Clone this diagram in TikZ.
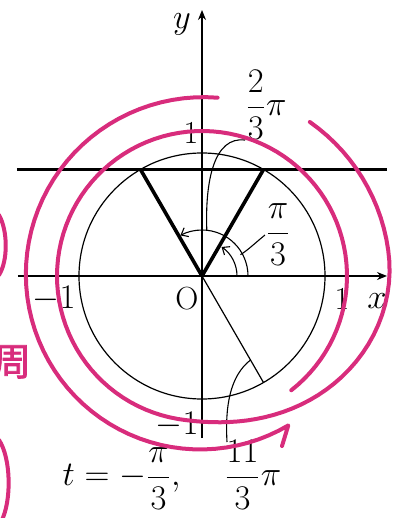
\documentclass[tikz,border=0pt]{standalone}
\usepackage{amsmath}
\usepackage{fontspec}
\newfontfamily\cjk[FakeBold=2]{Noto Sans CJK JP}
\usepackage{xcolor}
\usepackage{tikz}
\usetikzlibrary{arrows.meta}
\definecolor{pinkpen}{RGB}{216,44,124}

\begin{document}
\begin{tikzpicture}[x=0.5pt,y=0.5pt,
  axis/.style={line width=0.7pt,-{Stealth[length=5pt,width=4pt]}},
  rim/.style={line width=0.6pt},
  heavy/.style={line width=1.8pt},
  leader/.style={line width=0.55pt},
  turn/.style={line width=0.55pt,-{Straight Barb[length=3pt,width=5pt]}},
  pen/.style={pinkpen,line width=2pt,line cap=round,line join=round},
  lbl/.style={font=\fontsize{16}{18}\selectfont,inner sep=0pt},
  frc/.style={font=\fontsize{19}{22}\selectfont,inner sep=0pt},
  declare function={ramp(\t)=max(0,min(1,(\t-262)/105));
    grow(\t)=ramp(\t)*ramp(\t)*(3-2*ramp(\t));}]

\useasboundingbox (-202,-242) rectangle (191,276);
\clip (-202,-242) rectangle (191,276);

\coordinate (O) at (0,0);
\coordinate (xl) at (-184,0);
\coordinate (xr) at (185,0);
\coordinate (yb) at (0,-162);
\coordinate (yt) at (0,266);

\draw[axis] (xl) -- (xr);
\draw[axis] (yb) -- (yt);
\draw[rim] (O) circle[radius=123];

\coordinate (hl) at (-185,106.5);
\coordinate (hr) at (185,106.5);
\coordinate (P) at (60:123);
\coordinate (Q) at (120:123);
\coordinate (R) at (-60:123);
\draw[heavy] (hl) -- (hr);
\draw[heavy] (O) -- (P);
\draw[heavy] (O) -- (Q);
\draw[rim] (O) -- (R);

\draw[turn] (46,0) arc[start angle=0,end angle=118,radius=46];
\draw[turn] (35,0) arc[start angle=0,end angle=56,radius=35];

\node[lbl] (ly) at (-20,252) {$y$};
\node[lbl] (lx) at (175,-25) {$x$};
\node[lbl] (lO) at (-15,-23) {O};
\node[lbl] (lxp) at (140,-23) {1};
\node[lbl] (lxm) at (-148,-23) {$-1$};
\node[lbl] (lyp) at (-11,143) {1};
\node[lbl] (lym) at (-25,-149) {$-1$};

\node[frc] (l23) at (64,171) {$\dfrac{2}{3}\pi$};
\node[frc] (l13) at (76,41) {$\dfrac{\pi}{3}$};
\node[frc] (lt) at (-30,-199) {$t=-\dfrac{\pi}{3},\quad\dfrac{11}{3}\pi$};

\coordinate (a23) at (84:46);
\coordinate (a13) at (29:44);
\coordinate (a113) at (-60:97);
\coordinate (b113) at (25,-166);
\draw[leader] (a23) .. controls (3,95) and (12,140) .. (l23.south west);
\draw[leader] (a13) .. controls (46,26) and (52,32) .. (l13.west);
\draw[leader] (b113) .. controls (23,-130) and (28,-100) .. (a113);

\draw[pen] plot[domain=-52:415,samples=140] (\x:{145+43*grow(\x)});
\draw[pen] plot[domain=85:300,samples=60] (\x:{179-0.03*(\x-85)}) -- (80,-170);

\draw[pen] (-203,61) .. controls (-194,45) and (-194,15) .. (-203,1);
\draw[pen] (-203,-164) .. controls (-191,-182) and (-190,-225) .. (-201,-246);
\node[text=pinkpen,font=\fontsize{19}{21}\selectfont\cjk] (note) at (-190,-86) {周};

\end{tikzpicture}
\end{document}
